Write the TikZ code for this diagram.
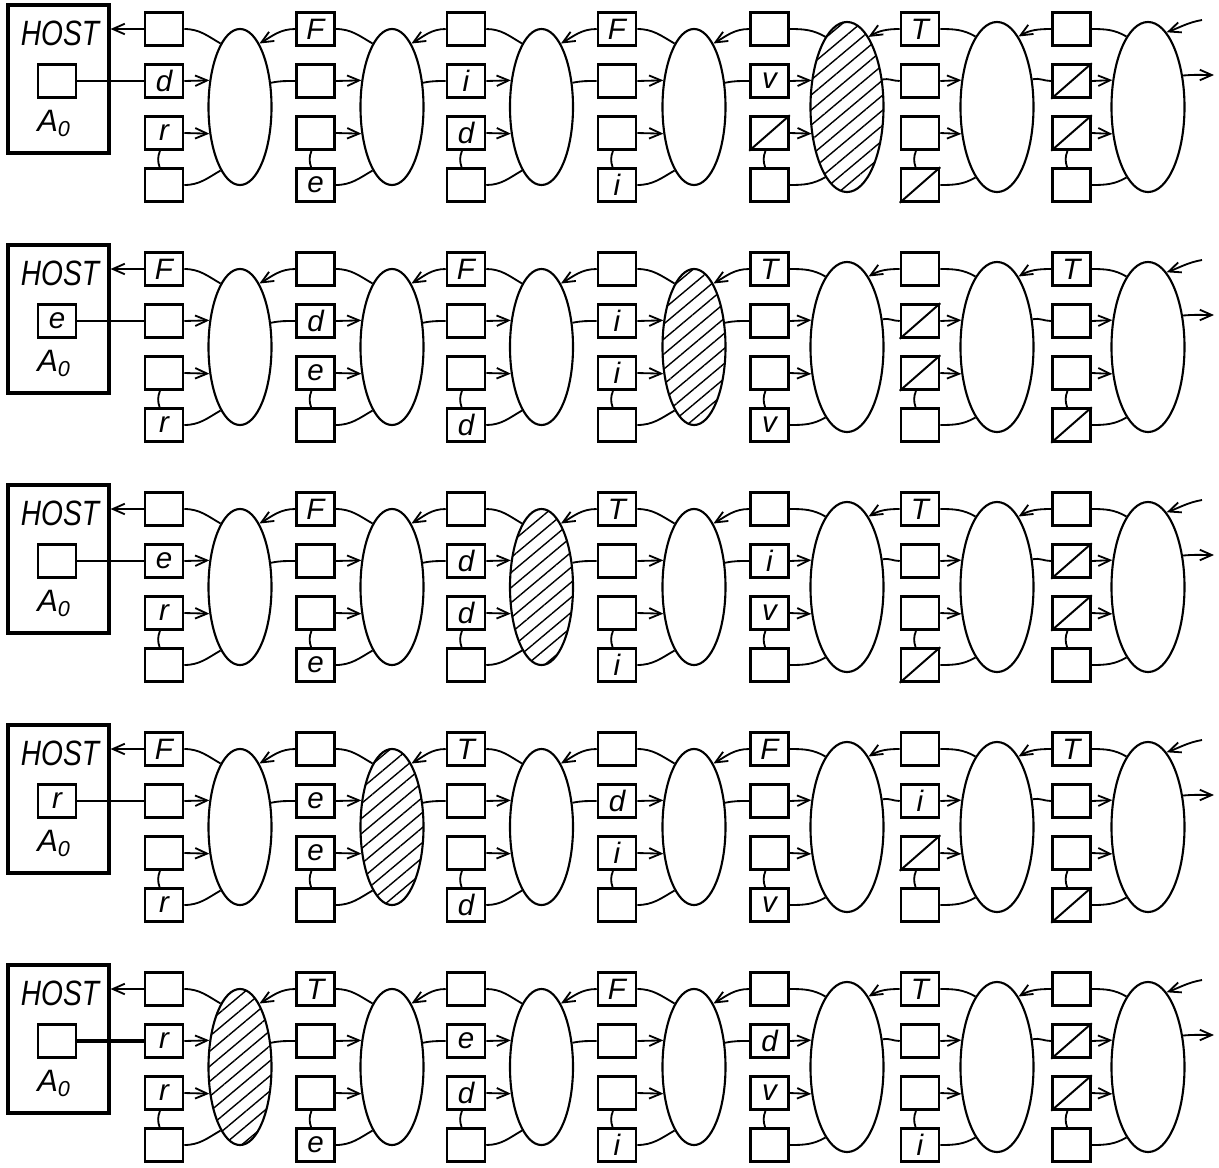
\documentclass[tikz,border=0pt]{standalone}
\usepackage{fontspec}
\usepackage{graphicx}
\setmainfont{Liberation Sans}
\usetikzlibrary{arrows.meta,patterns.meta,shapes.geometric}
\newcommand\colx[1]{\ifcase#1\or164\or315.5\or466\or617\or769.5\or920\or1071.5\fi}
\newcommand\ellx[1]{\ifcase#1\or240\or392\or541.5\or694\or847\or997\or1148\fi}
\def\slashlab{/}
\tikzset{
 wire/.style={line width=1.3pt},
 arr/.style={-{Straight Barb[length=8.5pt,width=7.5pt]}},
 regbox/.style={draw,line width=1.8pt,minimum width=0.95cm,minimum height=0.825cm,inner sep=0pt,font=\fontsize{21}{21}\selectfont\itshape},
 ellS/.style={draw,ellipse,line width=1.5pt,minimum width=1.575cm,minimum height=3.9cm,inner sep=0pt},
 ellL/.style={draw,ellipse,line width=1.5pt,minimum width=1.825cm,minimum height=4.25cm,inner sep=0pt},
 hatch/.style={pattern={Lines[angle=40,distance=8.2pt,line width=1pt]}},
 hostbox/.style={draw,line width=2.2pt,minimum width=2.525cm,minimum height=3.7cm,inner sep=0pt},
 hostlab/.style={font=\fontsize{25}{25}\selectfont\itshape,inner sep=0pt},
 a0lab/.style={font=\fontsize{22}{22}\selectfont\itshape,inner sep=0pt},
 slashline/.style={line width=1.4pt},
 cur ell/.style={},
 cur hatch/.style={},
}
\newcommand\putbox[3]{%
  \def\tmplab{#3}%
  \ifx\tmplab\slashlab
    \node[regbox] (#1) at #2 {};
    \draw[slashline] (#1.south west) -- (#1.north east);
  \else
    \node[regbox] (#1) at #2 {#3};
  \fi}
\newcommand\stage[7]{%
  \pgfmathsetmacro\T{-5-240*(#1-1)}%
  \pgfmathsetmacro\cx{\colx{#2}}%
  \pgfmathsetmacro\ex{\ellx{#2}}%
  \pgfmathtruncatemacro\pc{#2-1}%
  \ifnum#2>4 \tikzset{cur ell/.style=ellL}\def\aTwo{143}\def\aThree{217}%
  \else \tikzset{cur ell/.style=ellS}\def\aTwo{139}\def\aThree{221}\fi
  \ifnum#3=1 \tikzset{cur hatch/.style=hatch}\else\tikzset{cur hatch/.style={}}\fi
  \node[cur ell,cur hatch] (e#1c#2) at (\ex,\T-102) {};
  \putbox{r#1c#2b1}{(\cx,\T-24)}{#4}%
  \putbox{r#1c#2b2}{(\cx,\T-76)}{#5}%
  \putbox{r#1c#2b3}{(\cx,\T-128)}{#6}%
  \putbox{r#1c#2b4}{(\cx,\T-180)}{#7}%
  \draw[wire] (e#1c#2.107) to[out=150,in=0] (r#1c#2b1.east);
  \draw[wire,arr] (r#1c#2b2.east) -- (e#1c#2.\aTwo);
  \draw[wire,arr] (r#1c#2b3.east) -- (e#1c#2.\aThree);
  \draw[wire] (r#1c#2b4.east) to[out=0,in=210] (e#1c#2.253);
  \draw[wire] ([xshift=-0.1cm]r#1c#2b3.south) to[bend right=20] ([xshift=-0.11cm]r#1c#2b4.north);
  \ifnum#2>1
    \draw[wire,arr] (r#1c#2b1.west) to[out=180,in=30] (e#1c\pc.73);
    \draw[wire] (e#1c\pc.38) to[out=12,in=180] (r#1c#2b2.west);
  \fi
}
\newcommand\hostrow[3]{%
  \pgfmathsetmacro\T{-5-240*(#1-1)}%
  \node[hostbox] (host#1) at (58.5,\T-74) {};
  \node[hostlab] (hl#1) at (60,\T-28) {\scalebox{0.8}[1]{HOST}};
  \node[regbox] (a#1) at (57,\T-76) {#2};
  \node[a0lab] (al#1) at (54,\T-118) {A\textsubscript{0}};
  \draw[wire,arr] (r#1c1b1.west) -- (r#1c1b1.west -| host#1.east);
  \draw[wire,#3] (a#1.east) -- (r#1c1b2.west);
  \coordinate (in#1) at (1202,\T-15);
  \coordinate (out#1) at (1214,\T-70);
  \draw[wire,arr] (in#1) to[out=190,in=20] (e#1c7.76);
  \draw[wire,arr] (e#1c7.42) to[out=5,in=180] (out#1);
}
\begin{document}
\begin{tikzpicture}[x=0.025cm,y=0.025cm]
\useasboundingbox (0,0) rectangle (1219,-1167);
% row 1
\stage{1}{1}{0}{}{d}{r}{}
\stage{1}{2}{0}{F}{}{}{e}
\stage{1}{3}{0}{}{i}{d}{}
\stage{1}{4}{0}{F}{}{}{i}
\stage{1}{5}{1}{}{v}{/}{}
\stage{1}{6}{0}{T}{}{}{/}
\stage{1}{7}{0}{}{/}{/}{}
\hostrow{1}{}{}
% row 2
\stage{2}{1}{0}{F}{}{}{r}
\stage{2}{2}{0}{}{d}{e}{}
\stage{2}{3}{0}{F}{}{}{d}
\stage{2}{4}{1}{}{i}{i}{}
\stage{2}{5}{0}{T}{}{}{v}
\stage{2}{6}{0}{}{/}{/}{}
\stage{2}{7}{0}{T}{}{}{/}
\hostrow{2}{e}{}
% row 3
\stage{3}{1}{0}{}{e}{r}{}
\stage{3}{2}{0}{F}{}{}{e}
\stage{3}{3}{1}{}{d}{d}{}
\stage{3}{4}{0}{T}{}{}{i}
\stage{3}{5}{0}{}{i}{v}{}
\stage{3}{6}{0}{T}{}{}{/}
\stage{3}{7}{0}{}{/}{/}{}
\hostrow{3}{}{}
% row 4
\stage{4}{1}{0}{F}{}{}{r}
\stage{4}{2}{1}{}{e}{e}{}
\stage{4}{3}{0}{T}{}{}{d}
\stage{4}{4}{0}{}{d}{i}{}
\stage{4}{5}{0}{F}{}{}{v}
\stage{4}{6}{0}{}{i}{/}{}
\stage{4}{7}{0}{T}{}{}{/}
\hostrow{4}{r}{}
% row 5
\stage{5}{1}{1}{}{r}{r}{}
\stage{5}{2}{0}{T}{}{}{e}
\stage{5}{3}{0}{}{e}{d}{}
\stage{5}{4}{0}{F}{}{}{i}
\stage{5}{5}{0}{}{d}{v}{}
\stage{5}{6}{0}{T}{}{}{i}
\stage{5}{7}{0}{}{/}{/}{}
\hostrow{5}{}{line width=2.2pt}
\end{tikzpicture}
\end{document}
